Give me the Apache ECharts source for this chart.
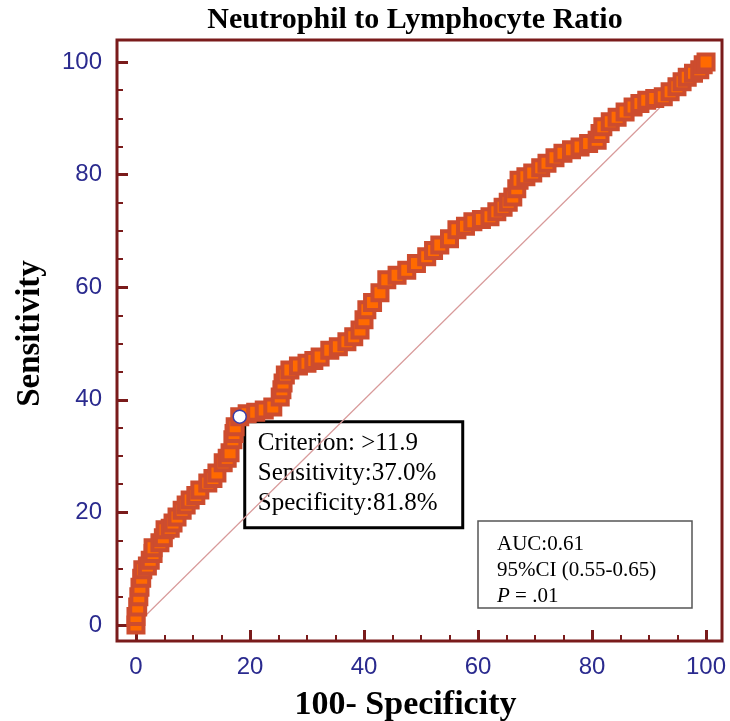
<!DOCTYPE html>
<html><head><meta charset="utf-8">
<script src="https://cdn.jsdelivr.net/npm/echarts@6/dist/echarts.min.js"></script>
<style>html,body{margin:0;padding:0;background:#fff}#c{width:730px;height:721px}</style>
</head><body><div id="c"></div>
<script>
// ROC curve points: 100-Specificity (x), Sensitivity (y)
const rocX = [0,0,0.3,0.5,0.7,1,1.2,2,2.5,3,3,4.2,4.8,5.1,6,6.5,7.2,8.1,8.8,9.5,10.5,11.2,12.6,13.5,14.2,15.3,16,16.5,17,17.2,17.4,18.2,19.5,21,22.5,24,25.3,25.6,25.8,26.2,27,28.5,30,31.2,32.3,34,35.5,37,38.2,39.3,40,40.5,41.5,42.8,44,45.8,47.5,49.2,51,52.2,53.3,55,56.3,57.8,59.1,60.6,62.1,63.3,64.4,65.3,66.1,66.8,67.2,68.4,69.6,71,72.1,73.5,74.9,76.4,77.9,79.4,80.9,81.4,81.9,83.2,84.4,85.8,87.2,88.4,89.6,91,92.5,93.7,94.9,95.8,96.7,97.8,98.9,99.5,100];
const rocY = [0,1.5,3.2,5,6.7,8.3,9.8,10.5,11.5,12.7,13.7,14.6,15.5,16.9,17.2,18.1,19.2,20.4,21.3,22.2,23,24,25.2,26,27,28.8,29.6,30.6,32.9,34,35.2,37.0,37.5,37.8,38.2,38.7,40.5,41.8,43,44.4,45.3,46,46.5,47,47.6,48.8,49.4,50.3,51.2,52.4,54.2,56,57.3,59,61.3,62.1,63,64.2,65.4,66.5,67.5,68.6,70.2,70.8,71.6,72,72.5,73.4,74.2,75.1,76,77.5,79,79.6,80.3,81.2,82,83,83.8,84.4,84.9,85.5,86.1,87.3,88.5,89.4,90.2,91.1,92,92.6,93.2,93.5,93.8,94.7,95.6,96.5,97.3,98,98.6,99.5,100];
const diagX = [0,100];
const diagY = [0,100];
const criterionPoint = [18.2, 37.0];
const majorTicks = [0,20,40,60,80,100];
const minorTicks = [5,10,15,25,30,35,45,50,55,65,70,75,85,90,95];
const titleText = 'Neutrophil to Lymphocyte Ratio';
const xName = '100- Specificity';
const yName = 'Sensitivity';
const criterionLines = ['Criterion: >11.9','Sensitivity:37.0%','Specificity:81.8%'];
const aucLines = ['AUC:0.61','95%CI (0.55-0.65)','{i|P} = .01'];

const maroon = '#7a1b1b';
const navy = '#2a2a8e';
const serif = '"Liberation Serif", "Times New Roman", serif';
const sans = '"Liberation Sans", Arial, sans-serif';

const chart = echarts.init(document.getElementById('c'), null, {renderer:'canvas'});

function mkX(ticks, len, width, labels) {
  return {
    type:'value', position:'bottom', min:-3.33, max:102.8,
    axisLine:{show:false, onZero:false}, splitLine:{show:false},
    axisTick:{show:true, inside:true, length:len, customValues:ticks, lineStyle:{color:maroon, width:width}},
    axisLabel:{show:labels, customValues:ticks, margin:14, color:navy, fontFamily:sans, fontSize:24},
  };
}
function mkY(ticks, len, width, labels) {
  return {
    type:'value', position:'left', min:-2.84, max:103.9,
    axisLine:{show:false, onZero:false}, splitLine:{show:false},
    axisTick:{show:true, inside:true, length:len, customValues:ticks, lineStyle:{color:maroon, width:width}},
    axisLabel:{show:labels, customValues:ticks, margin:15, color:navy, fontFamily:sans, fontSize:24},
  };
}
const x0 = mkX(majorTicks, 11, 3, true);
x0.name = xName; x0.nameLocation = 'middle'; x0.nameGap = 47;
x0.nameTextStyle = {fontFamily:serif, fontWeight:'bold', fontSize:34, color:'#000', padding:[0,28,0,0]};
const y0 = mkY(majorTicks, 11, 3, true);
y0.name = yName; y0.nameLocation = 'middle'; y0.nameGap = 70; y0.nameRotate = 90;
y0.nameTextStyle = {fontFamily:serif, fontWeight:'bold', fontSize:33, color:'#000', padding:[0,0,0,14]};

chart.setOption({
  animation:false,
  backgroundColor:'#fff',
  grid:{left:117, right:8, top:40, bottom:80, containLabel:false, outerBoundsMode:'none',
    show:true, borderColor:maroon, borderWidth:3, backgroundColor:'transparent'},
  xAxis:[x0, mkX(minorTicks, 6, 2, false)],
  yAxis:[y0, mkY(minorTicks, 6, 2, false)],
  series:[
    {type:'line', data:diagX.map((v,i)=>[v, diagY[i]]), showSymbol:false, lineStyle:{color:'#d89a9a', width:1.2}, z:1, silent:true},
    {type:'line', data:rocX.map((v,i)=>[v, rocY[i]]), symbol:'rect', symbolSize:15, showSymbol:true, showAllSymbol:true,
      lineStyle:{color:'#c9482a', width:1},
      itemStyle:{color:'#ff6a00', borderColor:'#cd4c2e', borderWidth:4}, z:2},
    {type:'scatter', data:[criterionPoint], symbol:'circle', symbolSize:13,
      itemStyle:{color:'#ffffff', opacity:1, borderColor:'#3b3ba6', borderWidth:1.5}, z:5}
  ]
});

const cp = chart.convertToPixel({xAxisIndex:0, yAxisIndex:0}, criterionPoint);
chart.setOption({
  graphic:[
    {type:'text', x:415, y:5, style:{text:titleText, align:'center', font:'bold 30px ' + serif, fill:'#000'}},
    {type:'group', x:cp[0]+5, y:cp[1]+5, children:[
      {type:'rect', shape:{x:0, y:0, width:218, height:106}, style:{fill:'#fff', stroke:'#000', lineWidth:3}},
      {type:'text', x:13, y:7, style:{text:criterionLines.join('\n'), font:'25px ' + serif, lineHeight:30, fill:'#000'}}
    ]},
    {type:'group', x:478, y:521, children:[
      {type:'rect', shape:{x:0, y:0, width:214, height:87}, style:{fill:'#fff', stroke:'#555', lineWidth:1.5}},
      {type:'text', x:19, y:10, style:{text:aucLines.join('\n'), font:'21px ' + serif, lineHeight:26, fill:'#000',
        rich:{i:{fontStyle:'italic', fontFamily:serif, fontSize:21, lineHeight:26}}}}
    ]}
  ]
});
</script></body></html>
